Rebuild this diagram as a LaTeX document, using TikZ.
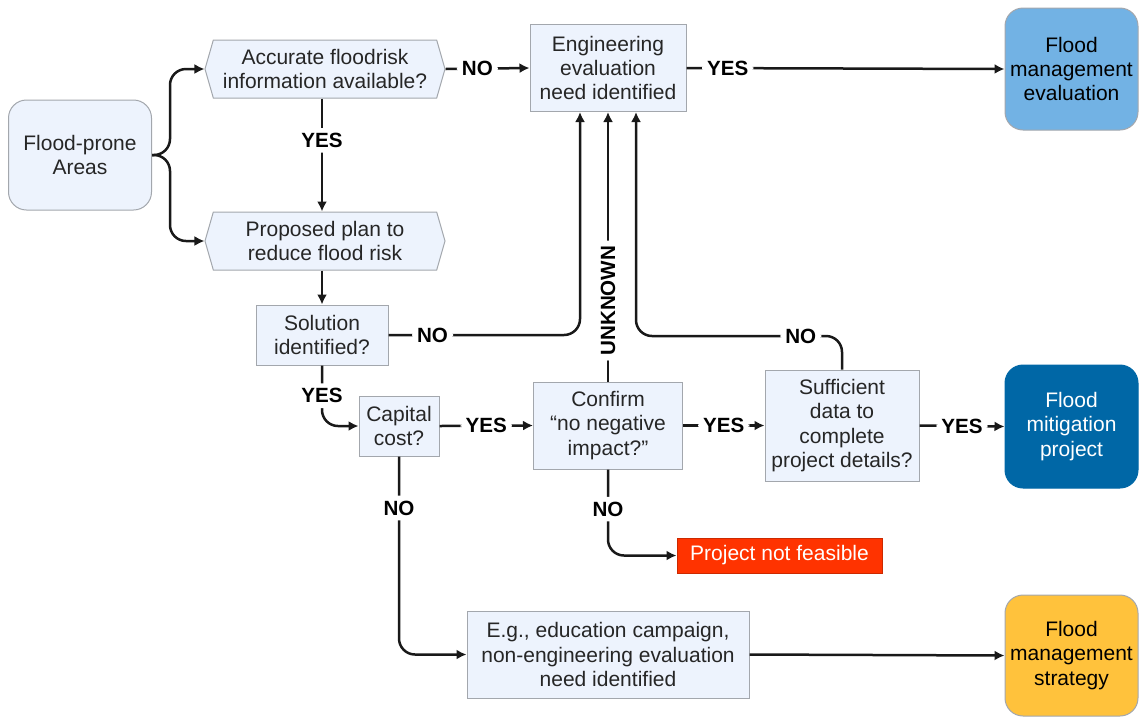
\documentclass[tikz,border=0pt]{standalone}
\usepackage{fontspec}
\setmainfont{Liberation Sans}
\usetikzlibrary{arrows.meta,positioning,calc,shapes.symbols}
\definecolor{ink}{HTML}{262626}
\definecolor{edge}{HTML}{A3A7AD}
\definecolor{stepfill}{HTML}{EDF3FD}
\definecolor{evalblue}{HTML}{72B2E4}
\definecolor{projblue}{HTML}{0067A6}
\definecolor{stratyellow}{HTML}{FFC23C}
\definecolor{stopred}{HTML}{FF3300}
\tikzset{
  >={Latex[length=5pt,width=5pt]},
  flow/.style={->, draw=black!90, line width=1.25pt, rounded corners=8pt},
  stepbox/.style={draw=edge, fill=stepfill, line width=0.5pt, text=ink, align=center,
    inner sep=0pt, font=\fontsize{10.5}{12.2}\selectfont},
  askbox/.style={stepbox, shape=signal, signal to=west and east, signal pointer angle=148},
  endbox/.style={stepbox, rounded corners=9pt},
  answer/.style={fill=white, inner sep=2.5pt, font=\bfseries\fontsize{10.3}{12}\selectfont, text=black},
}

\begin{document}
\begin{tikzpicture}[x=0.5pt,y=-0.5pt]
\useasboundingbox (0,0) rectangle (1139,719);

% -----------------------------------------------------------------------------
% left column: start and first questions
% -----------------------------------------------------------------------------
\node[endbox, minimum width=71.5pt, minimum height=55pt] (areas) at (80,155) {Flood-prone\\Areas};
\node[askbox, minimum width=120pt, minimum height=29pt] (accurate) at (325,69) {Accurate floodrisk\\information available?};
\node[askbox, minimum width=120pt, minimum height=29pt] (plan) at (325,241) {Proposed plan to\\reduce flood risk};
\node[stepbox, minimum width=66pt, minimum height=30pt] (solution) at (322,335) {Solution\\identified?};
\node[stepbox, minimum width=40pt, minimum height=30pt] (capital) at (399,426) {Capital\\cost?};

% -----------------------------------------------------------------------------
% middle column
% -----------------------------------------------------------------------------
\node[stepbox, minimum width=78pt, minimum height=43.5pt] (engineering) at (608,68) {Engineering\\evaluation\\need identified};
\node[stepbox, minimum width=74.5pt, minimum height=43.5pt] (confirm) at (608,425.5) {Confirm\\``no negative\\impact?''};
\node[stepbox, minimum width=77pt, minimum height=55.5pt] (sufficient) at (842,425.5) {Sufficient\\data to\\complete\\project details?};
\node[stepbox, fill=stopred, draw=stopred!80!black, text=white, minimum width=102.5pt, minimum height=17.5pt] (notfeasible) at (779.5,555.5) {Project not feasible};
\node[stepbox, minimum width=141pt, minimum height=43.5pt] (education) at (608,654.5) {E.g., education campaign,\\non-engineering evaluation\\need identified};

% -----------------------------------------------------------------------------
% outcomes on the right
% -----------------------------------------------------------------------------
\node[endbox, fill=evalblue, text=black, minimum width=66.5pt, minimum height=61pt] (mgmteval) at (1071.5,69) {Flood\\management\\evaluation};
\node[endbox, fill=projblue, draw=projblue, text=white, minimum width=66.5pt, minimum height=61.5pt] (mitigation) at (1071.5,426.5) {Flood\\mitigation\\project};
\node[endbox, fill=stratyellow, text=black, minimum width=66.5pt, minimum height=60.5pt] (strategy) at (1071.5,655.5) {Flood\\management\\strategy};

% entry points on the bottom of the engineering box
\coordinate (inleft) at ([xshift=-14pt]engineering.south);
\coordinate (inright) at ([xshift=14pt]engineering.south);
\coordinate (turnno) at (0,336);

% -----------------------------------------------------------------------------
% connectors
% -----------------------------------------------------------------------------
\draw[flow] (areas.east) -- ++(18,0) |- (accurate.west);
\draw[flow] (areas.east) -- ++(18,0) |- (plan.west);
\draw[flow] (accurate.south -| solution.north) -- node[answer, pos=0.37] {YES} (plan.north -| solution.north);
\draw[flow] (accurate.east) -- node[answer, pos=0.38] {NO} (engineering.west);
\draw[flow] (engineering.east) -- node[answer, pos=0.13] {YES} (mgmteval.west);
\draw[flow] (plan.south -| solution.north) -- (solution.north);
\draw[flow] (solution.east) -- node[answer, pos=0.23] {NO} (solution.east -| inleft) -- (inleft);
\draw[flow] (solution.south) |- node[answer, pos=0.25] {YES} (capital.west);
\draw[flow] (capital.east) -- node[answer] {YES} (confirm.west);
\draw[flow] (confirm.north) -- node[answer, rotate=90, pos=0.3] {UNKNOWN} (engineering.south);
\draw[flow] (confirm.east) -- node[answer] {YES} (sufficient.west);
\draw[flow] (sufficient.north) -- (sufficient.north |- turnno) -- node[answer, pos=0.2] {NO} (inright |- turnno) -- (inright);
\draw[flow] (sufficient.east) -- node[answer] {YES} (mitigation.west);
\draw[flow] (confirm.south) |- node[answer, pos=0.23] {NO} (notfeasible.west);
\draw[flow] (capital.south) |- node[answer, pos=0.13] {NO} (education.west);
\draw[flow] (education.east) -- (strategy.west);

\end{tikzpicture}
\end{document}
